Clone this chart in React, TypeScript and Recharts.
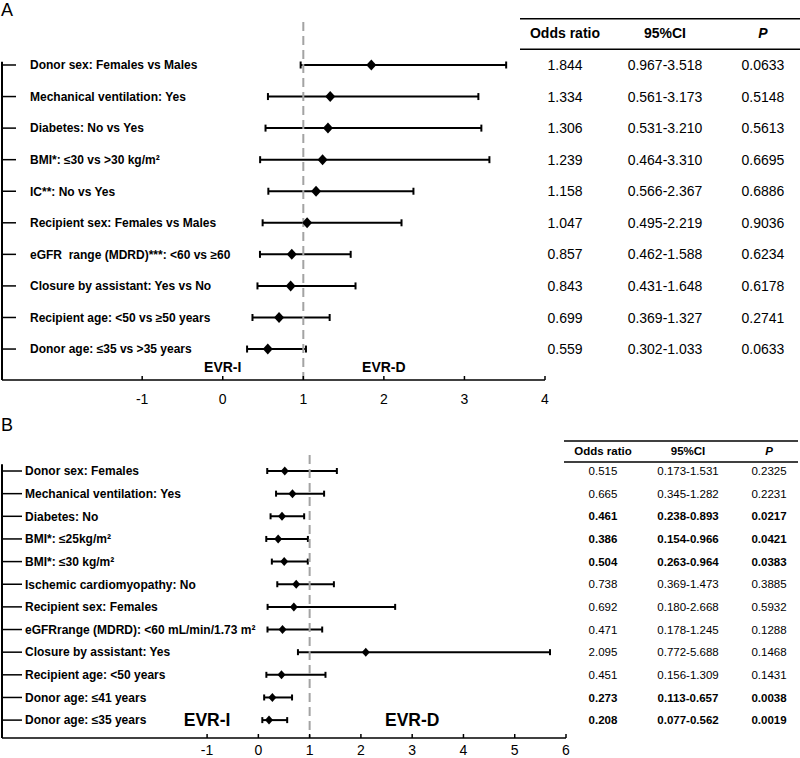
import React from "react";
import {
  ComposedChart,
  Scatter,
  XAxis,
  YAxis,
  ErrorBar,
  ReferenceLine,
  ReferenceDot,
} from "recharts";

const FONT = '"Liberation Sans", Arial, Helvetica, sans-serif';

const tableHeads = ["Odds ratio", "95%CI", "P"];

// Panel A
const labelsA = [
  "Donor sex: Females vs Males",
  "Mechanical ventilation: Yes",
  "Diabetes: No vs Yes",
  "BMI*: ≤30 vs >30 kg/m²",
  "IC**: No vs Yes",
  "Recipient sex: Females vs Males",
  "eGFR  range (MDRD)***: <60 vs ≥60",
  "Closure by assistant: Yes vs No",
  "Recipient age: <50 vs ≥50 years",
  "Donor age: ≤35 vs >35 years",
];
const orA = [1.844, 1.334, 1.306, 1.239, 1.158, 1.047, 0.857, 0.843, 0.699, 0.559];
const loA = [0.967, 0.561, 0.531, 0.464, 0.566, 0.495, 0.462, 0.431, 0.369, 0.302];
const hiA = [3.518, 3.173, 3.21, 3.31, 2.367, 2.219, 1.588, 1.648, 1.327, 1.033];
const pA = [0.0633, 0.5148, 0.5613, 0.6695, 0.6886, 0.9036, 0.6234, 0.6178, 0.2741, 0.0633];
const boldA = labelsA.map(() => false);
const xTicksA = [-1, 0, 1, 2, 3, 4];

// Panel B
const labelsB = [
  "Donor sex: Females",
  "Mechanical ventilation: Yes",
  "Diabetes: No",
  "BMI*: ≤25kg/m²",
  "BMI*: ≤30 kg/m²",
  "Ischemic cardiomyopathy: No",
  "Recipient sex: Females",
  "eGFRrange (MDRD): <60 mL/min/1.73 m²",
  "Closure by assistant: Yes",
  "Recipient age: <50 years",
  "Donor age: ≤41 years",
  "Donor age: ≤35 years",
];
const orB = [0.515, 0.665, 0.461, 0.386, 0.504, 0.738, 0.692, 0.471, 2.095, 0.451, 0.273, 0.208];
const loB = [0.173, 0.345, 0.238, 0.154, 0.263, 0.369, 0.18, 0.178, 0.772, 0.156, 0.113, 0.077];
const hiB = [1.531, 1.282, 0.893, 0.966, 0.964, 1.473, 2.668, 1.245, 5.688, 1.309, 0.657, 0.562];
const pB = [0.2325, 0.2231, 0.0217, 0.0421, 0.0383, 0.3885, 0.5932, 0.1288, 0.1468, 0.1431, 0.0038, 0.0019];
const boldB = [false, false, true, true, true, false, false, false, false, false, true, true];
const xTicksB = [-1, 0, 1, 2, 3, 4, 5, 6];

type Panel = {
  labels: string[];
  or: number[];
  lo: number[];
  hi: number[];
  p: number[];
  bold: boolean[];
  xTicks: number[];
  xDomain: [number, number];
  yDomain: [number, number];
  height: number;
  top: number;
  rightWidth: number;
  xAxisHeight: number;
  tickLen: number;
  labelX: number;
  tableFont: number;
  cols: number[];
  lineX: [number, number];
  headLines: [number, number];
  headDy: number;
  dashTop: number;
  axisTop: number;
  evr: { x: number; y: number; text: string }[];
  evrFont: number;
  dw: number;
  dh: number;
  cap: number;
  xTickDy: number;
};

function ForestPanel(props: Panel) {
  const rows = props.labels.map((label, i) => ({
    idx: i,
    or: props.or[i],
    err: [props.or[i] - props.lo[i], props.hi[i] - props.or[i]],
  }));
  const rowTicks = rows.map((r) => r.idx);
  const tableTicks = [-1, ...rowTicks];
  const [xMin] = props.xDomain;
  const yBottom = props.yDomain[1];

  const LabelTick = ({ x, y, payload }: any) => (
    <g>
      <line x1={x} x2={x + props.tickLen} y1={y} y2={y} stroke="#000" strokeWidth={1.5} />
      <text
        x={x + props.labelX}
        y={y}
        dy="0.36em"
        fontSize={12}
        fontWeight="bold"
        fontFamily={FONT}
        fill="#000"
        style={{ whiteSpace: "pre" }}
      >
        {props.labels[payload.value]}
      </text>
    </g>
  );

  const TableTick = ({ x, y, payload }: any) => {
    const i = payload.value;
    const c = props.cols;
    if (i < 0) {
      return (
        <g>
          <line x1={x + props.lineX[0]} x2={x + props.lineX[1]} y1={y + props.headLines[0]} y2={y + props.headLines[0]} stroke="#000" strokeWidth={1.5} />
          <line x1={x + props.lineX[0]} x2={x + props.lineX[1]} y1={y + props.headLines[1]} y2={y + props.headLines[1]} stroke="#000" strokeWidth={1.5} />
          {tableHeads.map((h, k) => (
            <text
              key={h}
              x={x + c[k]}
              y={y + props.headDy}
              dy="0.36em"
              textAnchor="middle"
              fontSize={props.tableFont}
              fontWeight="bold"
              fontStyle={k === 2 ? "italic" : "normal"}
              fontFamily={FONT}
              fill="#000"
            >
              {h}
            </text>
          ))}
        </g>
      );
    }
    const cells = [
      props.or[i].toFixed(3),
      `${props.lo[i].toFixed(3)}-${props.hi[i].toFixed(3)}`,
      props.p[i].toFixed(4),
    ];
    return (
      <g>
        {cells.map((t, k) => (
          <text
            key={k}
            x={x + c[k]}
            y={y}
            dy="0.36em"
            textAnchor="middle"
            fontSize={props.tableFont}
            fontWeight={props.bold[i] ? "bold" : "normal"}
            fontFamily={FONT}
            fill="#000"
          >
            {t}
          </text>
        ))}
      </g>
    );
  };

  const XTick = ({ x, y, payload }: any) => (
    <g>
      <line x1={x} x2={x} y1={y} y2={y - 4} stroke="#000" strokeWidth={1.5} />
      <text x={x} y={y + props.xTickDy} textAnchor="middle" fontSize={14} fontFamily={FONT} fill="#000">
        {payload.value}
      </text>
    </g>
  );

  const Diamond = ({ cx, cy }: any) => (
    <polygon
      points={`${cx},${cy - props.dh} ${cx + props.dw},${cy} ${cx},${cy + props.dh} ${cx - props.dw},${cy}`}
      fill="#000"
    />
  );

  return (
    <ComposedChart
      width={800}
      height={props.height}
      data={rows}
      margin={{ top: props.top, right: 0, bottom: 0, left: 2 }}
    >
      <XAxis
        type="number"
        dataKey="or"
        domain={props.xDomain}
        allowDataOverflow
        ticks={props.xTicks}
        interval={0}
        height={props.xAxisHeight}
        axisLine={{ stroke: "#000", strokeWidth: 1.5 }}
        tickLine={false}
        tickSize={0}
        tickMargin={0}
        tick={XTick}
      />
      <YAxis
        yAxisId="lab"
        type="number"
        dataKey="idx"
        domain={props.yDomain}
        allowDataOverflow
        reversed
        mirror
        ticks={rowTicks}
        interval={0}
        axisLine={false}
        tickLine={false}
        tickSize={0}
        tickMargin={0}
        tick={LabelTick}
      />
      <YAxis
        yAxisId="tbl"
        orientation="right"
        type="number"
        dataKey="idx"
        width={props.rightWidth}
        domain={props.yDomain}
        allowDataOverflow
        reversed
        ticks={tableTicks}
        interval={0}
        axisLine={false}
        tickLine={false}
        tickSize={0}
        tickMargin={0}
        tick={TableTick}
      />
      <ReferenceLine
        yAxisId="lab"
        segment={[
          { x: xMin, y: props.axisTop },
          { x: xMin, y: yBottom },
        ]}
        stroke="#000"
        strokeWidth={2}
        ifOverflow="visible"
      />
      {props.evr.map((e) => (
        <ReferenceDot
          key={e.text}
          yAxisId="lab"
          x={e.x}
          y={e.y}
          r={1}
          fill="none"
          stroke="none"
          ifOverflow="visible"
          label={{
            value: e.text,
            position: "center",
            fill: "#000",
            fontSize: props.evrFont,
            fontWeight: "bold",
            fontFamily: FONT,
          }}
        />
      ))}
      <Scatter yAxisId="lab" data={rows} shape={Diamond} isAnimationActive={false}>
        <ErrorBar dataKey="err" direction="x" width={props.cap} stroke="#000" strokeWidth={2} />
      </Scatter>
      <ReferenceLine
        yAxisId="lab"
        segment={[
          { x: 1, y: props.dashTop },
          { x: 1, y: yBottom },
        ]}
        stroke="#a3a3a3"
        strokeWidth={2}
        strokeDasharray="9 5"
        ifOverflow="visible"
      />
    </ComposedChart>
  );
}

export default function App() {
  return (
    <div style={{ position: "relative", width: 800, height: 758, fontFamily: FONT, background: "#fff" }}>
      <style>{"body{margin:0}"}</style>
      <div style={{ position: "absolute", left: 1, top: 1, fontSize: 18, lineHeight: "18px", zIndex: 1 }}>A</div>
      <div style={{ position: "absolute", left: 1, top: 416, fontSize: 18, lineHeight: "18px", zIndex: 1 }}>B</div>
      <ForestPanel
        labels={labelsA}
        or={orA}
        lo={loA}
        hi={hiA}
        p={pA}
        bold={boldA}
        xTicks={xTicksA}
        xDomain={[-2.74, 4]}
        yDomain={[-1.584, 9.981]}
        height={410}
        top={15}
        rightWidth={255}
        xAxisHeight={30}
        tickLen={14}
        labelX={28}
        tableFont={14}
        cols={[20, 120, 218]}
        lineX={[-25, 255]}
        headLines={[-14.7, 15.9]}
        headDy={0}
        dashTop={-1.36}
        axisTop={-0.1}
        evr={[
          { x: 0, y: 9.57, text: "EVR-I" },
          { x: 2, y: 9.57, text: "EVR-D" },
        ]}
        evrFont={14}
        dw={5}
        dh={5.5}
        cap={3.5}
        xTickDy={24}
      />
      <ForestPanel
        labels={labelsB}
        or={orB}
        lo={loB}
        hi={hiB}
        p={pB}
        bold={boldB}
        xTicks={xTicksB}
        xDomain={[-5, 6]}
        yDomain={[-1.59, 11.79]}
        height={348}
        top={25}
        rightWidth={234}
        xAxisHeight={20}
        tickLen={20}
        labelX={23}
        tableFont={11.5}
        cols={[37, 122, 203]}
        lineX={[-2, 232]}
        headLines={[-7.4, 13.6]}
        headDy={2.6}
        dashTop={-0.71}
        axisTop={-0.3}
        evr={[
          { x: -1, y: 11, text: "EVR-I" },
          { x: 3, y: 11, text: "EVR-D" },
        ]}
        evrFont={17.5}
        dw={4}
        dh={4.5}
        cap={3}
        xTickDy={17}
      />
    </div>
  );
}
